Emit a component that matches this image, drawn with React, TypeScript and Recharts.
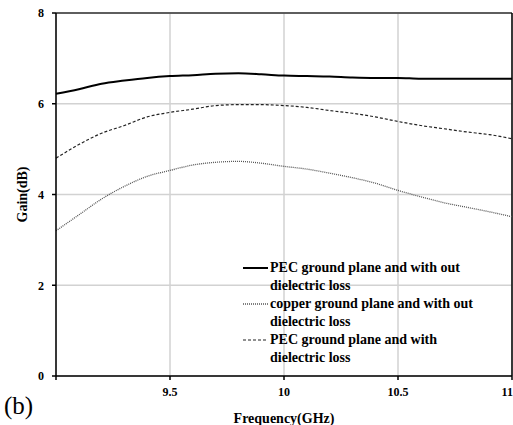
import {
  CartesianGrid,
  Label,
  Legend,
  Line,
  LineChart,
  ReferenceLine,
  XAxis,
  YAxis,
} from "recharts";

const freq = [9.0, 9.1, 9.2, 9.3, 9.4, 9.5, 9.6, 9.7, 9.8, 9.9, 10.0, 10.1, 10.2, 10.3, 10.4, 10.5, 10.6, 10.7, 10.8, 10.9, 11.0];
const pecNoLoss = [6.22, 6.32, 6.44, 6.51, 6.57, 6.61, 6.63, 6.66, 6.67, 6.65, 6.62, 6.61, 6.6, 6.58, 6.57, 6.57, 6.55, 6.55, 6.55, 6.55, 6.55];
const copperNoLoss = [3.2, 3.55, 3.9, 4.18, 4.4, 4.53, 4.65, 4.71, 4.73, 4.69, 4.62, 4.56, 4.47, 4.37, 4.25, 4.09, 3.95, 3.82, 3.72, 3.62, 3.51];
const pecLoss = [4.8, 5.1, 5.35, 5.52, 5.71, 5.81, 5.88, 5.96, 5.98, 5.98, 5.96, 5.92, 5.85, 5.79, 5.71, 5.61, 5.52, 5.45, 5.38, 5.32, 5.23];

const xTicks = [9, 9.5, 10, 10.5, 11];
const yTicks = [0, 2, 4, 6, 8];

const seriesNames = [
  "PEC ground plane and with out dielectric loss",
  "copper ground plane and with out dielectric loss",
  "PEC ground plane and with dielectric loss",
];

const data = freq.map((f, i) => ({
  f,
  pec: pecNoLoss[i],
  copper: copperNoLoss[i],
  loss: pecLoss[i],
}));

const font = "Liberation Serif, serif";

const legendItems = [
  { name: seriesNames[0], color: "#000", width: 2, dash: undefined },
  { name: seriesNames[1], color: "#555", width: 1.3, dash: "1 1" },
  { name: seriesNames[2], color: "#222", width: 1.2, dash: "3 2" },
];

const LegendBox = () => (
  <div style={{ fontFamily: font, fontWeight: "bold", fontSize: 14, lineHeight: "18px", color: "#000" }}>
    {legendItems.map((item) => (
      <div key={item.name} style={{ display: "flex", alignItems: "flex-start" }}>
        <svg width={27} height={18} style={{ flex: "none" }}>
          <line x1={0} y1={9} x2={25} y2={9} stroke={item.color} strokeWidth={item.width} strokeDasharray={item.dash} />
        </svg>
        <div style={{ width: 215 }}>{item.name}</div>
      </div>
    ))}
  </div>
);

const App = () => {
  return (
    <div style={{ position: "absolute", left: 0, top: 0, width: 513, height: 425, background: "#fff" }}>
      <LineChart width={513} height={425} data={data} margin={{ top: 13, right: 1, left: 0, bottom: 0 }}>
        <CartesianGrid stroke="#d2d2d2" strokeWidth={1.5} />
        <XAxis
          dataKey="f"
          type="number"
          domain={[9, 11]}
          ticks={xTicks}
          tickFormatter={(v) => (v === 9 ? "" : String(v))}
          height={49}
          stroke="#000"
          strokeWidth={1.5}
          tickSize={4}
          tickMargin={7}
          tick={{ fill: "#000", fontFamily: font, fontWeight: "bold", fontSize: 12 }}
        >
          <Label
            value="Frequency(GHz)"
            position="insideBottom"
            offset={2}
            style={{ fill: "#000", fontFamily: font, fontWeight: "bold", fontSize: 14 }}
          />
        </XAxis>
        <YAxis
          type="number"
          domain={[0, 8]}
          ticks={yTicks}
          width={56}
          stroke="#000"
          strokeWidth={1.5}
          tickSize={4}
          tickMargin={8}
          tick={{ fill: "#000", fontFamily: font, fontWeight: "bold", fontSize: 12 }}
        >
          <Label
            value="Gain(dB)"
            angle={-90}
            position="insideLeft"
            offset={22}
            style={{ textAnchor: "middle", fill: "#000", fontFamily: font, fontWeight: "bold", fontSize: 14 }}
          />
        </YAxis>
        <ReferenceLine y={8} stroke="#333" strokeWidth={1.5} />
        <ReferenceLine x={11} stroke="#000" strokeWidth={1.5} />
        <Legend
          layout="vertical"
          align="center"
          verticalAlign="middle"
          content={<LegendBox />}
          wrapperStyle={{ left: 243, top: 259, width: 260 }}
        />
        <Line
          dataKey="pec"
          name={seriesNames[0]}
          stroke="#000"
          strokeWidth={2}
          dot={false}
          type="monotone"
          isAnimationActive={false}
        />
        <Line
          dataKey="copper"
          name={seriesNames[1]}
          stroke="#555"
          strokeWidth={1.3}
          strokeDasharray="1 1"
          dot={false}
          type="monotone"
          isAnimationActive={false}
        />
        <Line
          dataKey="loss"
          name={seriesNames[2]}
          stroke="#222"
          strokeWidth={1.2}
          strokeDasharray="3 2"
          dot={false}
          type="monotone"
          isAnimationActive={false}
        />
      </LineChart>
      <div
        style={{
          position: "absolute",
          left: 4,
          top: 392,
          fontFamily: font,
          fontSize: 25,
          lineHeight: "28px",
          color: "#000",
        }}
      >
        (b)
      </div>
    </div>
  );
};

export default App;
